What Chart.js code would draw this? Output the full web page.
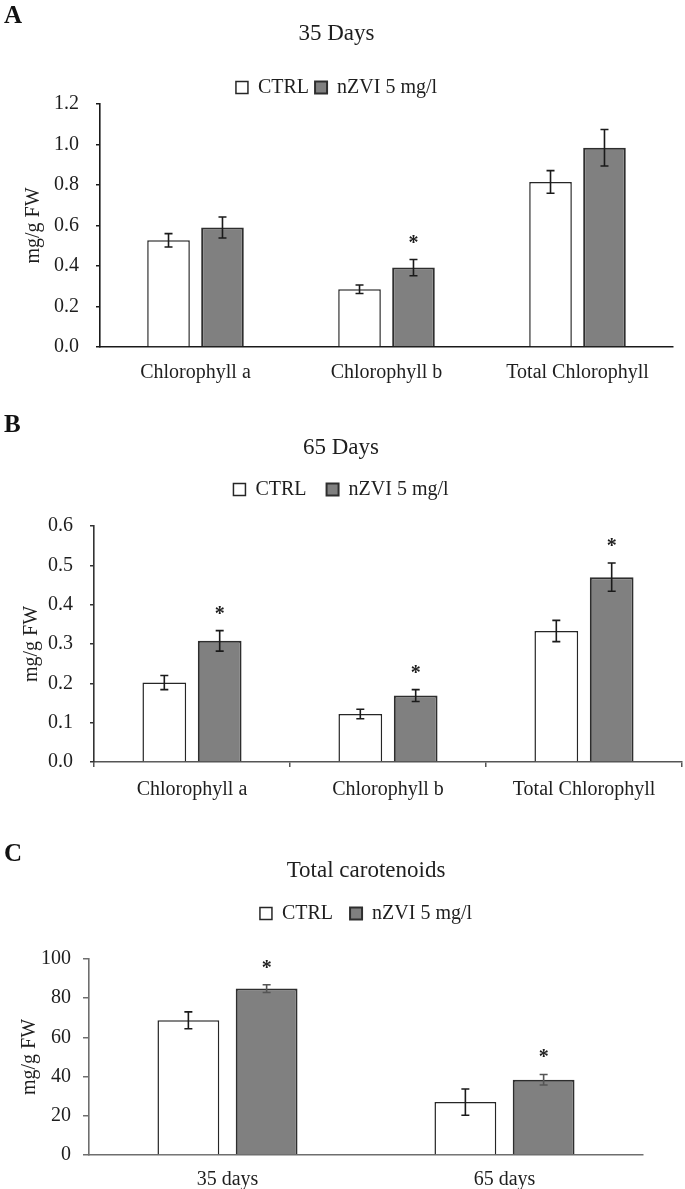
<!DOCTYPE html>
<html>
<head>
<meta charset="utf-8">
<script src="https://cdn.jsdelivr.net/npm/chart.js@4.4.0/dist/chart.umd.min.js"></script>
<style>
  body { margin: 0; background: #fff; width: 685px; height: 1189px; position: relative; overflow: hidden; }
  .panel { position: absolute; left: 0; width: 685px; }
  .tag { position: absolute; left: 4px; font: bold 25px/25px "Liberation Serif", serif; color: #111; }
</style>
</head>
<body>
<div class="panel" style="top:0px;height:399px"><canvas id="chartA"></canvas></div>
<div class="panel" style="top:395px;height:418px"><canvas id="chartB"></canvas></div>
<div class="panel" style="top:800px;height:405px"><canvas id="chartC"></canvas></div>
<div class="tag" style="top:2px">A</div>
<div class="tag" style="top:411px">B</div>
<div class="tag" style="top:840px">C</div>
<script>
// Panel A - 35 days
const categoriesA = ["Chlorophyll a", "Chlorophyll b", "Total Chlorophyll"];
const ctrlA = [0.527, 0.285, 0.815];
const ctrlErrA = [0.033, 0.021, 0.056];
const nzviA = [0.59, 0.392, 0.984];
const nzviErrA = [0.052, 0.04, 0.09];
const sigA = [false, true, false];
const yTicksA = ["0.0", "0.2", "0.4", "0.6", "0.8", "1.0", "1.2"];

// Panel B - 65 days
const categoriesB = ["Chlorophyll a", "Chlorophyll b", "Total Chlorophyll"];
const ctrlB = [0.202, 0.122, 0.333];
const ctrlErrB = [0.018, 0.012, 0.027];
const nzviB = [0.308, 0.169, 0.47];
const nzviErrB = [0.026, 0.015, 0.036];
const sigB = [true, true, true];
const yTicksB = ["0.0", "0.1", "0.2", "0.3", "0.4", "0.5", "0.6"];

// Panel C - total carotenoids
const categoriesC = ["35 days", "65 days"];
const ctrlC = [68.7, 27.0];
const ctrlErrC = [4.3, 6.7];
const nzviC = [84.9, 38.4];
const nzviErrC = [2.0, 2.7];
const sigC = [true, true];
const yTicksC = ["0", "20", "40", "60", "80", "100"];

const FONT = '"Liberation Serif", "Times New Roman", serif';
const TEXT = "#1e1e1e";

// draws the error bars and the significance stars on top of the bars
const errorBarPlugin = {
  id: "errorBars",
  afterDatasetsDraw(chart) {
    const ctx = chart.ctx;
    const yScale = chart.scales.y;
    chart.data.datasets.forEach((ds, i) => {
      const meta = chart.getDatasetMeta(i);
      meta.data.forEach((bar, j) => {
        const v = ds.data[j];
        const e = ds.errors[j];
        const yTop = yScale.getPixelForValue(v + e);
        const yBot = yScale.getPixelForValue(v - e);
        ctx.save();
        ctx.strokeStyle = ds.errorColor;
        ctx.lineWidth = 1.6;
        ctx.beginPath();
        ctx.moveTo(bar.x, yTop);
        ctx.lineTo(bar.x, yBot);
        ctx.moveTo(bar.x - 4, yTop);
        ctx.lineTo(bar.x + 4, yTop);
        ctx.moveTo(bar.x - 4, yBot);
        ctx.lineTo(bar.x + 4, yBot);
        ctx.stroke();
        if (ds.sig && ds.sig[j]) {
          ctx.fillStyle = TEXT;
          ctx.font = "bold 20px " + FONT;
          ctx.textAlign = "center";
          ctx.textBaseline = "alphabetic";
          ctx.fillText("*", bar.x, yTop - 20 + 9);
        }
        ctx.restore();
      });
    });
  },
};

function makePanel(id, p) {
  const ctx = document.getElementById(id).getContext("2d");
  return new Chart(ctx, {
    type: "bar",
    data: {
      labels: p.categories,
      datasets: [
        {
          label: "CTRL",
          data: p.ctrl,
          errors: p.ctrlErr,
          sig: null,
          errorColor: "#1a1a1a",
          backgroundColor: "#ffffff",
          borderColor: "#262626",
          borderWidth: 1.5,
          barPercentage: 0.79,
          categoryPercentage: 0.565,
        },
        {
          label: "nZVI 5 mg/l",
          data: p.nzvi,
          errors: p.nzviErr,
          sig: p.sig,
          errorColor: p.nzviErrColor,
          backgroundColor: "#808080",
          borderColor: "#2e2e2e",
          borderWidth: 2,
          barPercentage: 0.79,
          categoryPercentage: 0.565,
        },
      ],
    },
    options: {
      responsive: true,
      maintainAspectRatio: false,
      animation: false,
      layout: { padding: { left: 0, right: p.padRight, top: 0, bottom: 0 } },
      plugins: {
        title: {
          display: true,
          text: p.title,
          fullSize: !p.centerOnPlot,
          color: TEXT,
          font: { family: FONT, size: 23, weight: "normal", lineHeight: 1 },
          padding: { top: p.titleTop, bottom: p.titleBottom },
        },
        subtitle: {
          // empty spacer between legend and plot
          display: p.spacer > 0,
          text: "",
          weight: 500,
          padding: 0,
          font: { size: p.spacer || 1, lineHeight: 1 },
        },
        legend: {
          fullSize: !p.centerOnPlot,
          maxHeight: p.legendMax,
          labels: {
            boxWidth: 12,
            boxHeight: 12,
            padding: p.legendPad,
            color: TEXT,
            font: { family: FONT, size: 20 },
          },
        },
        tooltip: { enabled: false },
      },
      scales: {
        x: {
          ticks: { padding: p.xTickPad, color: TEXT, font: { family: FONT, size: 20 } },
          grid: {
            display: p.xTicks,
            offset: true,
            drawOnChartArea: false,
            drawTicks: p.xTicks,
            tickLength: p.xTicks ? 5 : 0,
            color: p.xAxisColor,
            lineWidth: 1.5,
          },
          border: { display: true, color: p.xAxisColor, width: 1.6 },
        },
        y: {
          min: 0,
          max: p.yMax,
          ticks: {
            stepSize: p.yStep,
            padding: p.yTickPad,
            color: TEXT,
            font: { family: FONT, size: 20 },
            callback: (v, i) => p.yTicks[i],
          },
          grid: {
            drawOnChartArea: false,
            drawTicks: true,
            tickLength: p.yTickLen,
            color: p.yAxisColor,
            lineWidth: 1.5,
          },
          border: { display: true, color: p.yAxisColor, width: 1.6 },
          title: {
            display: true,
            text: "mg/g FW",
            color: TEXT,
            font: { family: FONT, size: 20 },
            padding: { top: p.yTitlePad, bottom: 0 },
          },
          afterFit: (scale) => {
            scale.width = p.axisLeft;
          },
        },
      },
    },
    plugins: [errorBarPlugin],
  });
}

makePanel("chartA", {
  categories: categoriesA, ctrl: ctrlA, ctrlErr: ctrlErrA, nzvi: nzviA, nzviErr: nzviErrA, sig: sigA,
  yTicks: yTicksA, yMax: 1.2, yStep: 0.2, title: "35 Days", nzviErrColor: "#1a1a1a",
  titleTop: 22, titleBottom: 26.5, legendPad: 6, legendMax: 32.5, spacer: 0, centerOnPlot: false,
  padRight: 12, axisLeft: 100, yTickLen: 4, yTickPad: 17, yTitlePad: 22,
  xTicks: false, xTickPad: 14, xAxisColor: "#1a1a1a", yAxisColor: "#1a1a1a",
});

makePanel("chartB", {
  categories: categoriesB, ctrl: ctrlB, ctrlErr: ctrlErrB, nzvi: nzviB, nzviErr: nzviErrB, sig: sigB,
  yTicks: yTicksB, yMax: 0.6, yStep: 0.1, title: "65 Days", nzviErrColor: "#1a1a1a",
  titleTop: 41, titleBottom: 0.5, legendPad: 20, legendMax: 50, spacer: 16.5, centerOnPlot: false,
  padRight: 3, axisLeft: 94, yTickLen: 4, yTickPad: 17, yTitlePad: 20,
  xTicks: true, xTickPad: 11, xAxisColor: "#555555", yAxisColor: "#333333",
});

makePanel("chartC", {
  categories: categoriesC, ctrl: ctrlC, ctrlErr: ctrlErrC, nzvi: nzviC, nzviErr: nzviErrC, sig: sigC,
  yTicks: yTicksC, yMax: 100, yStep: 20, title: "Total carotenoids", nzviErrColor: "#555555",
  titleTop: 59, titleBottom: 4.5, legendPad: 17, legendMax: 47, spacer: 25.5, centerOnPlot: true,
  padRight: 42, axisLeft: 89, yTickLen: 6, yTickPad: 12, yTitlePad: 18,
  xTicks: false, xTickPad: 13, xAxisColor: "#6e6e6e", yAxisColor: "#6e6e6e",
});
</script>
</body>
</html>
